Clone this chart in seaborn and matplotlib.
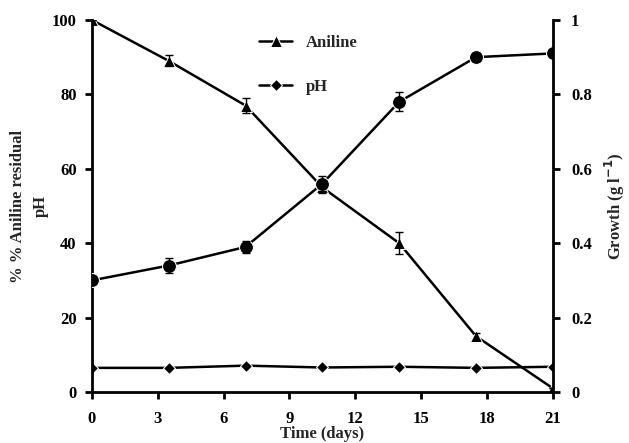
#!/usr/bin/env python3

import numpy as np
import pandas as pd
import matplotlib
matplotlib.use("Agg")
import matplotlib.pyplot as plt
import seaborn as sns

# sampling days
days = [0, 3.5, 7, 10.5, 14, 17.5, 21]
# % aniline residual (left axis)
aniline = [100, 89, 77, 55, 40, 15, 1]
aniline_err = [0, 1.5, 2, 1.5, 3, 1, 0]
# pH (left axis)
ph = [6.5, 6.5, 7.1, 6.6, 6.8, 6.5, 6.8]
# growth, g/l (right axis)
growth = [0.30, 0.34, 0.39, 0.56, 0.78, 0.90, 0.91]
growth_err = [0.01, 0.02, 0.015, 0.02, 0.025, 0.01, 0.01]

x_ticks = [0, 3, 6, 9, 12, 15, 18, 21]
left_ticks = [0, 20, 40, 60, 80, 100]
right_ticks = [0, 0.2, 0.4, 0.6, 0.8, 1.0]
right_labels = ["0", "0.2", "0.4", "0.6", "0.8", "1"]

df = pd.DataFrame({"day": days, "aniline": aniline, "ph": ph, "growth": growth})

sns.set_style("white")
plt.rcParams["font.family"] = ["Liberation Serif", "DejaVu Serif"]
plt.rcParams["font.weight"] = "bold"

fig = plt.figure(figsize=(6.29, 4.43), dpi=100)
ax = fig.add_axes([0.146, 0.115, 0.733, 0.84])
ax2 = ax.twinx()

sns.lineplot(data=df, x="day", y="aniline", ax=ax, color="k", lw=1.8,
             marker="^", markersize=9, label="Aniline")
sns.lineplot(data=df, x="day", y="ph", ax=ax, color="k", lw=1.8,
             marker="D", markersize=6, label="pH")
ax.errorbar(days, aniline, yerr=aniline_err, fmt="none", ecolor="k",
            capsize=3, lw=1)
sns.lineplot(data=df, x="day", y="growth", ax=ax2, color="k", lw=1.8,
             marker="o", markersize=10, legend=False)
ax2.errorbar(days, growth, yerr=growth_err, fmt="none", ecolor="k",
             capsize=3, lw=1)

ax.set_xlim(0, 21)
ax.set_ylim(0, 100)
ax2.set_ylim(0, 1)
ax.set_xticks(x_ticks)
ax.set_yticks(left_ticks)
ax2.set_yticks(right_ticks)
ax2.set_yticklabels(right_labels)

for a in (ax, ax2):
    a.spines["top"].set_visible(False)
    for s in a.spines.values():
        s.set_linewidth(2)
        s.set_color("k")
    a.tick_params(axis="both", direction="out", length=5, width=2,
                  labelsize=12, colors="k")
ax.spines["right"].set_visible(False)
ax2.spines["left"].set_visible(False)
ax2.spines["bottom"].set_visible(False)
ax.tick_params(left=True, bottom=True)
ax.tick_params(axis="x", pad=9)
ax.tick_params(axis="y", pad=6)
ax2.tick_params(right=True, pad=8)

ax.set_xlabel("Time (days)", fontsize=12, fontweight="bold", labelpad=-1)
ax.set_ylabel("% % Aniline residual\npH", fontsize=12, fontweight="bold",
              labelpad=2, linespacing=1.6)
ax2.set_ylabel("Growth (g l$^{-1}$)", fontsize=12, fontweight="bold",
               labelpad=8)

leg = ax.legend(loc="upper left", bbox_to_anchor=(0.33, 1.0), frameon=False,
                fontsize=12, handlelength=2.0, labelspacing=1.7)

fig.savefig("out.png", dpi=100)
